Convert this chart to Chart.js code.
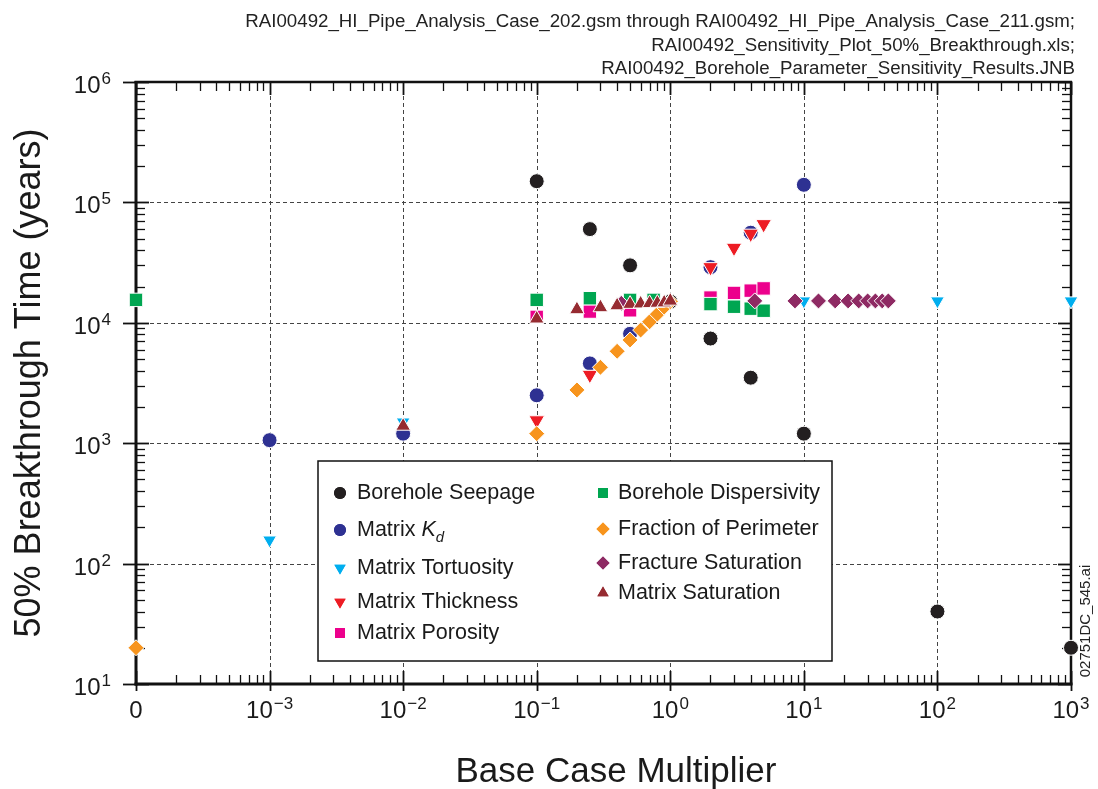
<!DOCTYPE html>
<html>
<head>
<meta charset="utf-8">
<script src="https://cdn.jsdelivr.net/npm/chart.js@4.4.1/dist/chart.umd.min.js"></script>
<style>
html, body { margin: 0; padding: 0; background: #fff; }
canvas { display: block; }
</style>
</head>
<body>
<canvas id="bt_chart" width="1098" height="789"></canvas>
<script>
// the "0" multiplier is plotted at the left end of the log axis
var ZERO = 1e-4

// tick labels ("a^b" = a with superscript b)
var xTickValues = [ZERO, 1e-3, 1e-2, 1e-1, 1, 10, 100, 1000]
var xTickLabels = ["0", "10^−3", "10^−2", "10^−1", "10^0", "10^1", "10^2", "10^3"]
var yTickValues = [10, 100, 1000, 1e4, 1e5, 1e6]
var yTickLabels = ["10^1", "10^2", "10^3", "10^4", "10^5", "10^6"]

var titleLines = [
    "RAI00492_HI_Pipe_Analysis_Case_202.gsm through RAI00492_HI_Pipe_Analysis_Case_211.gsm;",
    "RAI00492_Sensitivity_Plot_50%_Breakthrough.xls;",
    "RAI00492_Borehole_Parameter_Sensitivity_Results.JNB"
]

// 50% breakthrough time (years) against base case multiplier
var seepageX = [0.1, 0.25, 0.5, 1, 2, 4, 10, 100, 1000]
var seepageY = [1.5e5, 6.0e4, 3.0e4, 1.5e4, 7.4e3, 3.5e3, 1.2e3, 40, 20]

var kdX = [0.001, 0.01, 0.1, 0.25, 0.5, 2, 4, 10]
var kdY = [1.06e3, 1.2e3, 2.5e3, 4.6e3, 8.1e3, 2.9e4, 5.6e4, 1.4e5]

var tortuosityX = [0.001, 0.01, 10, 100, 1000]
var tortuosityY = [157, 1.5e3, 1.52e4, 1.52e4, 1.52e4]

var thicknessX = [0.1, 0.25, 2, 3, 4, 5]
var thicknessY = [1.55e3, 3.7e3, 2.9e4, 4.2e4, 5.5e4, 6.6e4]

var porosityX = [0.1, 0.25, 0.5, 2, 3, 4, 5]
var porosityY = [1.12e4, 1.24e4, 1.27e4, 1.62e4, 1.77e4, 1.85e4, 1.93e4]

var dispersivityX = [ZERO, 0.1, 0.25, 0.5, 0.75, 2, 3, 4, 5]
var dispersivityY = [1.55e4, 1.55e4, 1.6e4, 1.55e4, 1.55e4, 1.43e4, 1.36e4, 1.31e4, 1.26e4]

var perimeterX = [ZERO, 0.1, 0.2, 0.3, 0.4, 0.5, 0.6, 0.7, 0.8, 0.9, 1]
var perimeterY = [20, 1.2e3, 2.77e3, 4.27e3, 5.8e3, 7.2e3, 8.7e3, 1.02e4, 1.18e4, 1.35e4, 1.5e4]

var fracSatX = [0.43, 4.29, 8.58, 12.87, 17.16, 21.45, 25.74, 30.03, 34.32, 38.61, 42.9]
var fracSatY = [1.45e4, 1.52e4, 1.52e4, 1.52e4, 1.52e4, 1.52e4, 1.52e4, 1.52e4, 1.52e4, 1.52e4, 1.52e4]

var matSatX = [0.01, 0.1, 0.2, 0.3, 0.4, 0.5, 0.6, 0.7, 0.8, 0.9, 1]
var matSatY = [1.39e3, 1.08e4, 1.29e4, 1.34e4, 1.39e4, 1.43e4, 1.44e4, 1.45e4, 1.46e4, 1.47e4, 1.52e4]

var FONT = "'Liberation Sans', Arial, Helvetica, sans-serif"

function pts(xs, ys) {
    return xs.map(function (x, i) { return { x: x, y: ys[i] } })
}

// style of each series; order: lower = drawn on top
var series = [
    { label: "Borehole Seepage", x: seepageX, y: seepageY, color: "#231f20", style: "circle", r: 7.5, order: 8, col: 0 },
    { label: "Matrix K", x: kdX, y: kdY, color: "#2e3192", style: "circle", r: 7.5, order: 7, col: 0 },
    { label: "Matrix Tortuosity", x: tortuosityX, y: tortuosityY, color: "#00aeef", style: "triangle", rot: 180, r: 8, order: 4, col: 0 },
    { label: "Matrix Thickness", x: thicknessX, y: thicknessY, color: "#ed1c24", style: "triangle", rot: 180, r: 9, order: 3, col: 0 },
    { label: "Matrix Porosity", x: porosityX, y: porosityY, color: "#ec008c", style: "rect", r: 9.5, order: 6, col: 0 },
    { label: "Borehole Dispersivity", x: dispersivityX, y: dispersivityY, color: "#00a651", style: "rect", r: 9.5, order: 5, col: 1 },
    { label: "Fraction of Perimeter", x: perimeterX, y: perimeterY, color: "#f7941d", style: "rectRot", r: 8, order: 2, col: 1 },
    { label: "Fracture Saturation", x: fracSatX, y: fracSatY, color: "#8e2a63", style: "rectRot", r: 8, order: 1, col: 1 },
    { label: "Matrix Saturation", x: matSatX, y: matSatY, color: "#962b31", style: "triangle", r: 8.5, order: 0, col: 1 }
]

var datasets = series.map(function (s) {
    return {
        label: s.label,
        data: pts(s.x, s.y),
        pointStyle: s.style,
        pointRotation: s.rot || 0,
        pointRadius: s.r,
        pointHoverRadius: s.r,
        pointBackgroundColor: s.color,
        pointBorderColor: "#ffffff",
        pointBorderWidth: 1,
        order: s.order,
        clip: false
    }
})

function line(ctx, x1, y1, x2, y2) {
    ctx.beginPath()
    ctx.moveTo(x1, y1)
    ctx.lineTo(x2, y2)
    ctx.stroke()
}

// "10^-3" -> 10 with a raised exponent
function drawPow(ctx, label, x, y, align) {
    var parts = label.split("^")
    ctx.font = "24px " + FONT
    var w1 = ctx.measureText(parts[0]).width
    var w2 = 0
    if (parts[1]) {
        ctx.font = "17px " + FONT
        w2 = ctx.measureText(parts[1]).width + 1
    }
    var start = align === "right" ? x - w1 - w2 : x - (w1 + w2) / 2
    ctx.textAlign = "left"
    ctx.textBaseline = "alphabetic"
    ctx.font = "24px " + FONT
    ctx.fillText(parts[0], start, y)
    if (parts[1]) {
        ctx.font = "17px " + FONT
        ctx.fillText(parts[1], start + w1 + 1, y - 9)
    }
}

var frame = {
    id: "frame",
    beforeDatasetsDraw: function (chart) {
        var ctx = chart.ctx, a = chart.chartArea
        var xs = chart.scales.x, ys = chart.scales.y
        ctx.save()
        ctx.fillStyle = "#1a1a1a"

        // dashed grid at the decades
        ctx.strokeStyle = "#444"
        ctx.lineWidth = 1
        ctx.setLineDash([4, 3])
        xTickValues.forEach(function (v) {
            var px = Math.round(xs.getPixelForValue(v)) + 0.5
            if (px > a.left + 3 && px < a.right - 3) line(ctx, px, a.top, px, a.bottom)
        })
        yTickValues.forEach(function (v) {
            var py = Math.round(ys.getPixelForValue(v)) + 0.5
            if (py > a.top + 3 && py < a.bottom - 3) line(ctx, a.left, py, a.right, py)
        })
        ctx.setLineDash([])

        // minor ticks
        ctx.strokeStyle = "#111"
        ctx.lineWidth = 1.3
        for (var k = -4; k <= 2; k++) {
            for (var m = 2; m <= 9; m++) {
                var px = Math.round(xs.getPixelForValue(m * Math.pow(10, k))) + 0.5
                line(ctx, px, a.bottom, px, a.bottom - 9)
                line(ctx, px, a.top, px, a.top + 9)
            }
        }
        for (k = 1; k <= 5; k++) {
            for (m = 2; m <= 9; m++) {
                var py = Math.round(ys.getPixelForValue(m * Math.pow(10, k))) + 0.5
                line(ctx, a.left, py, a.left + 9, py)
                line(ctx, a.right, py, a.right - 9, py)
            }
        }

        // major ticks
        ctx.lineWidth = 1.8
        xTickValues.forEach(function (v) {
            var px = Math.round(xs.getPixelForValue(v)) + 0.5
            line(ctx, px, a.bottom + 7, px, a.bottom - 13)
            line(ctx, px, a.top, px, a.top + 13)
        })
        yTickValues.forEach(function (v) {
            var py = Math.round(ys.getPixelForValue(v)) + 0.5
            line(ctx, a.left - 13, py, a.left + 13, py)
            line(ctx, a.right, py, a.right - 13, py)
        })

        // axis box
        ctx.lineWidth = 3
        line(ctx, a.left, a.top - 1, a.left, a.bottom + 1.5)
        line(ctx, a.left - 1.5, a.bottom, a.right + 1.5, a.bottom)
        ctx.lineWidth = 2.5
        line(ctx, a.left - 1.5, a.top, a.right + 1, a.top)
        line(ctx, a.right, a.top - 1, a.right, a.bottom + 1)

        // tick labels
        xTickValues.forEach(function (v, i) {
            drawPow(ctx, xTickLabels[i], xs.getPixelForValue(v), a.bottom + 34, "center")
        })
        yTickValues.forEach(function (v, i) {
            drawPow(ctx, yTickLabels[i], 111, ys.getPixelForValue(v) + 11, "right")
        })

        // axis titles
        ctx.font = "35px " + FONT
        ctx.textAlign = "center"
        ctx.textBaseline = "alphabetic"
        ctx.fillText("Base Case Multiplier", 616, 782)
        ctx.save()
        ctx.translate(30, (a.top + a.bottom) / 2)
        ctx.rotate(-Math.PI / 2)
        ctx.textBaseline = "middle"
        ctx.font = "36px " + FONT
        ctx.fillText("50% Breakthrough Time (years)", 0, 0)
        ctx.restore()

        // file names at the top right
        ctx.font = "18.7px " + FONT
        ctx.textAlign = "right"
        ctx.fillStyle = "#222"
        titleLines.forEach(function (t, i) {
            ctx.fillText(t, 1075, 27 + i * 23.5)
        })

        // drawing id along the right edge
        ctx.save()
        ctx.translate(1086, 621)
        ctx.rotate(-Math.PI / 2)
        ctx.font = "15px " + FONT
        ctx.textAlign = "center"
        ctx.textBaseline = "middle"
        ctx.fillText("02751DC_545.ai", 0, 0)
        ctx.restore()

        ctx.restore()
    }
}

var legendRowsLeft = [493, 530, 568, 602, 633]
var legendRowsRight = [493, 529, 563, 593]

var legendBox = {
    id: "legendBox",
    afterDatasetsDraw: function (chart) {
        var ctx = chart.ctx
        ctx.save()
        ctx.fillStyle = "#fff"
        ctx.fillRect(318, 461, 514, 200)
        ctx.strokeStyle = "#111"
        ctx.lineWidth = 1.5
        ctx.strokeRect(318, 461, 514, 200)

        var li = 0, ri = 0
        series.forEach(function (s) {
            var y, mx, tx
            if (s.col === 0) { y = legendRowsLeft[li++]; mx = 340; tx = 357 }
            else { y = legendRowsRight[ri++]; mx = 603; tx = 618 }
            var r = s.style === "rect" ? 7 : (s.style === "circle" ? 6 : 6.5)
            ctx.fillStyle = s.color
            Chart.helpers.drawPoint(ctx, { pointStyle: s.style, rotation: s.rot || 0, radius: r, borderWidth: 0 }, mx, y)
            ctx.fill()

            ctx.fillStyle = "#1a1a1a"
            ctx.font = "21.5px " + FONT
            ctx.textAlign = "left"
            ctx.textBaseline = "middle"
            if (s.label === "Matrix K") {
                ctx.fillText("Matrix ", tx, y)
                var w = ctx.measureText("Matrix ").width
                ctx.font = "italic 21.5px " + FONT
                ctx.fillText("K", tx + w, y)
                var wk = ctx.measureText("K").width
                ctx.font = "italic 15px " + FONT
                ctx.fillText("d", tx + w + wk, y + 8)
            } else {
                ctx.fillText(s.label, tx, y)
            }
        })
        ctx.restore()
    }
}

var btCanvas = document.getElementById("bt_chart")
var bt_chart = new Chart(btCanvas, {
    type: "scatter",
    data: { datasets: datasets },
    options: {
        responsive: false,
        animation: false,
        layout: { padding: { left: 136, top: 82, right: 27, bottom: 105 } },
        plugins: { legend: { display: false }, tooltip: { enabled: false } },
        scales: {
            x: { type: "logarithmic", min: ZERO, max: 1000, display: false },
            y: { type: "logarithmic", min: 10, max: 1e6, display: false }
        }
    },
    plugins: [frame, legendBox]
})
</script>
</body>
</html>
